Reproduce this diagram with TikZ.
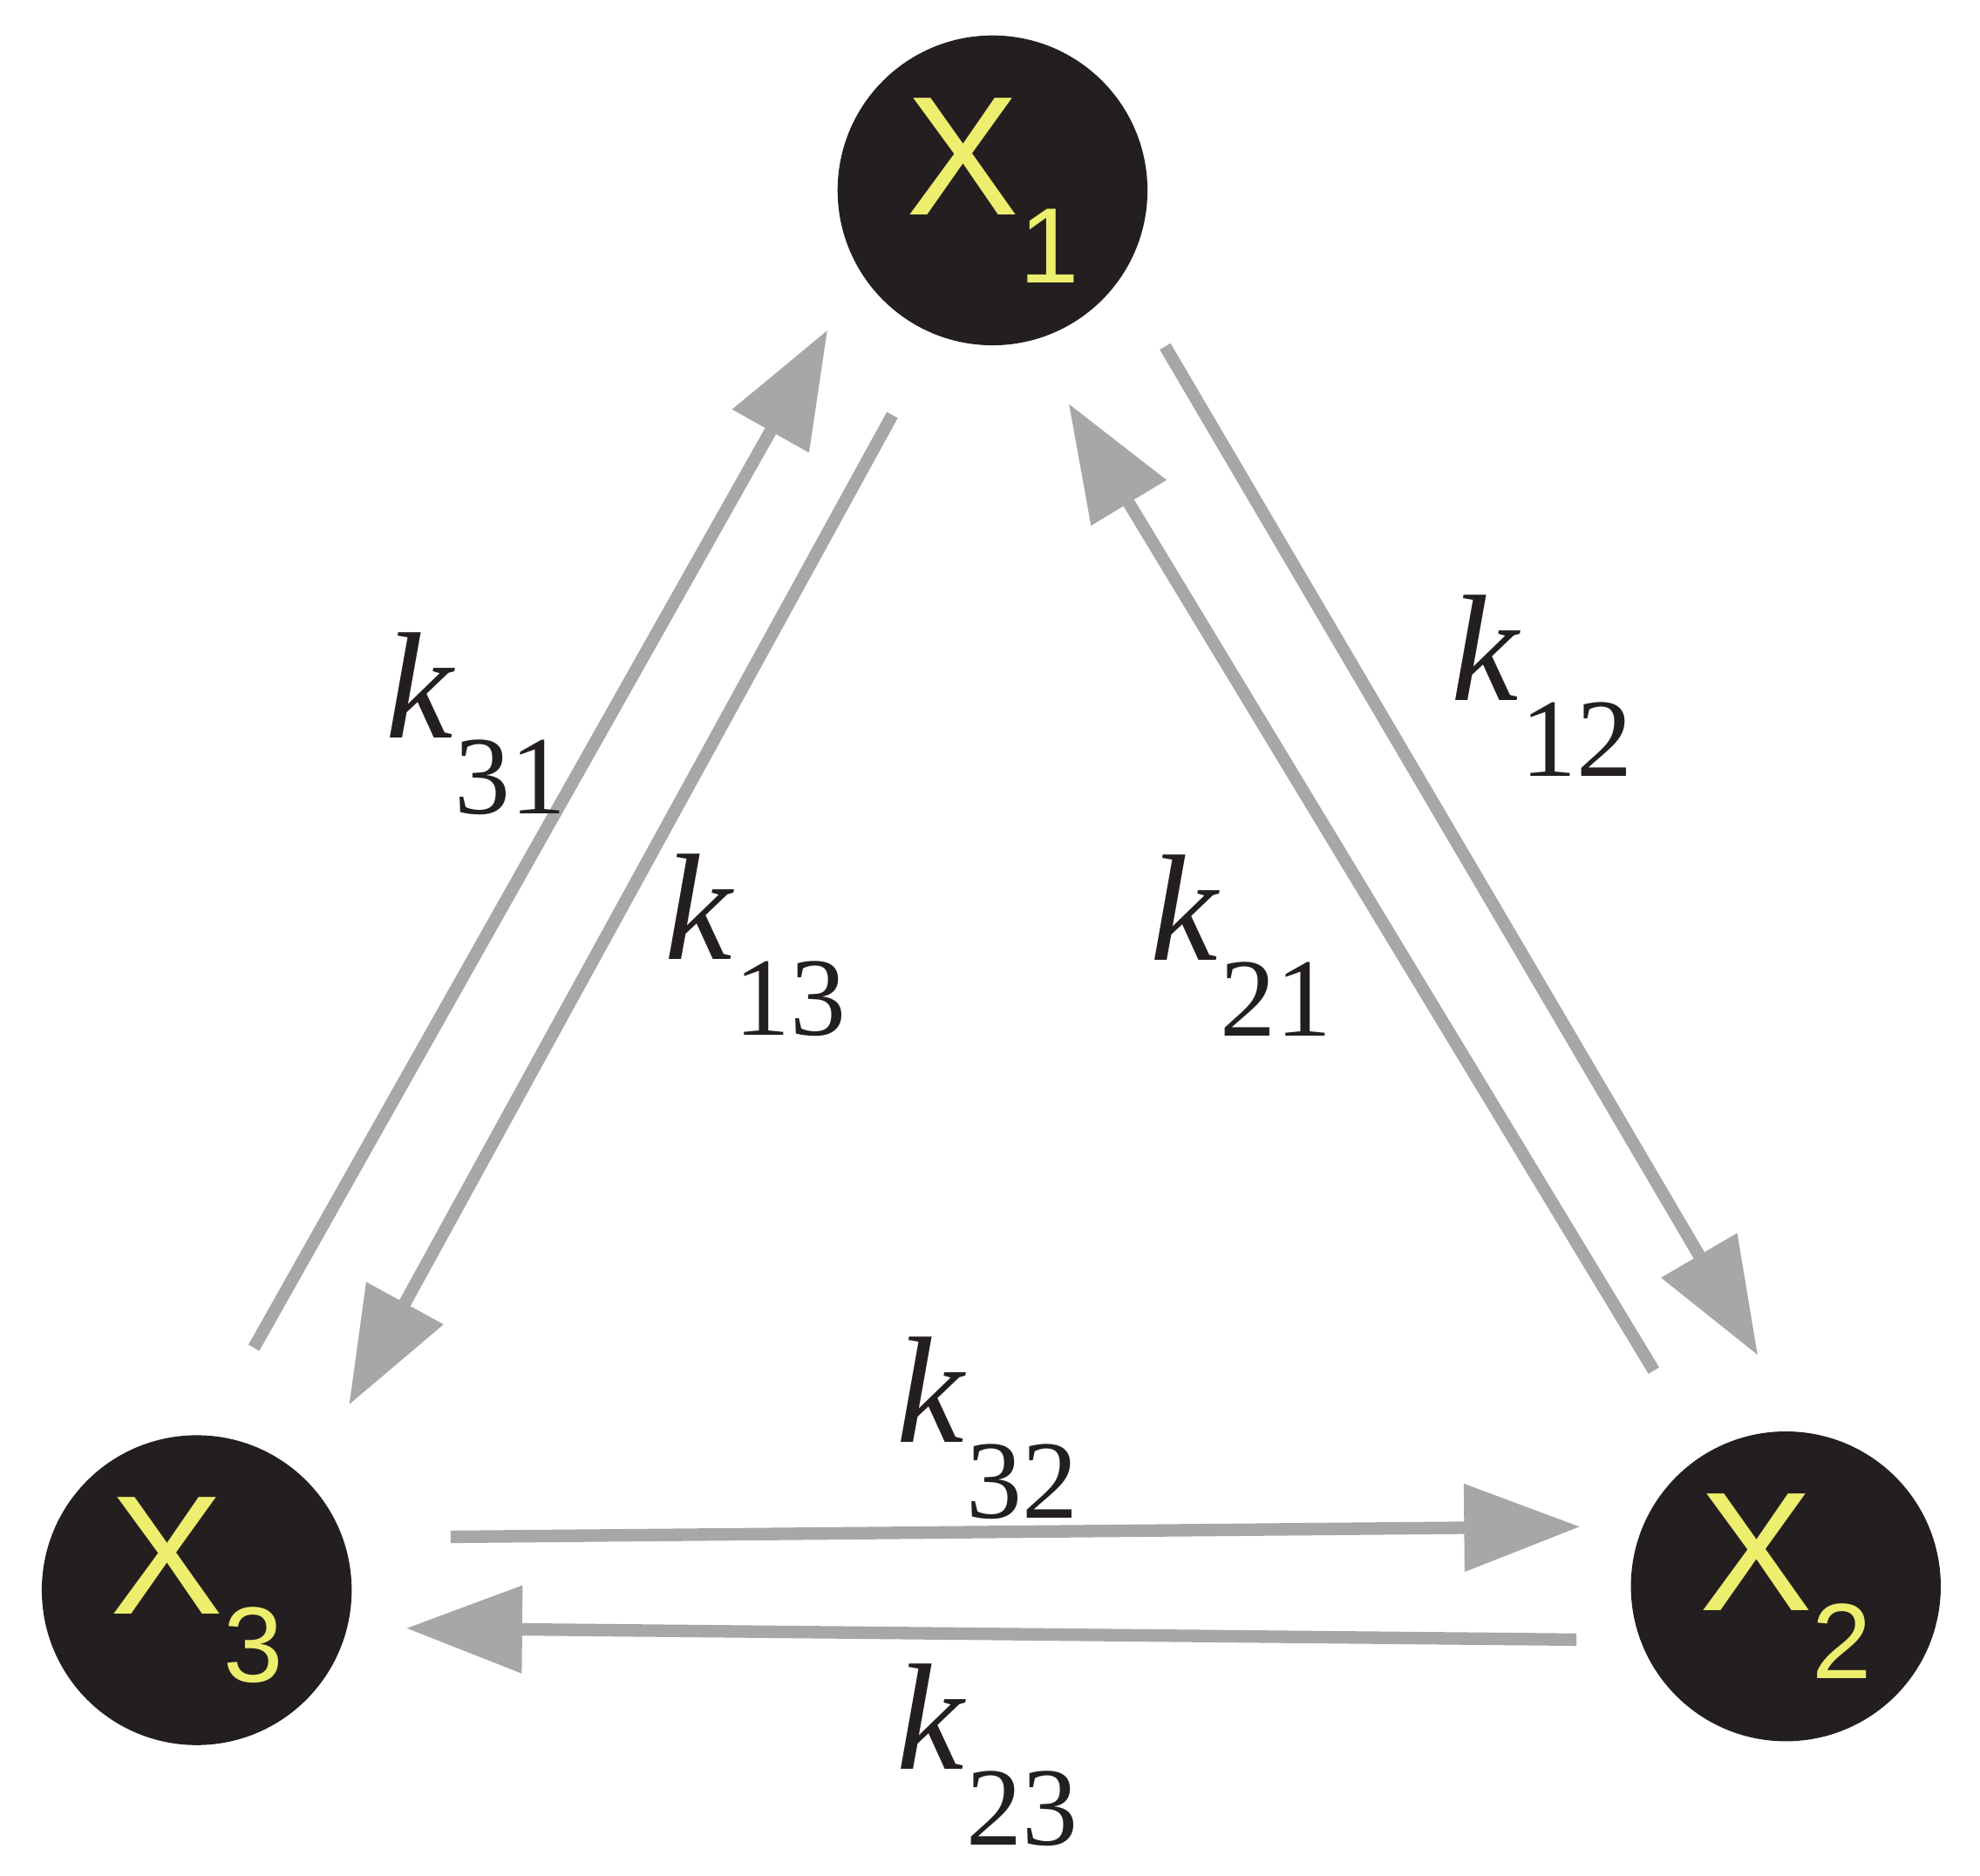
\documentclass[tikz,border=0pt]{standalone}
\usepackage{fontspec}
\setmainfont{Liberation Serif}
\setsansfont{Liberation Sans}
\usetikzlibrary{arrows.meta}
\definecolor{nodefill}{HTML}{231F20}
\definecolor{xyellow}{HTML}{EEEE6E}
\definecolor{arrgray}{HTML}{A7A7A7}
\begin{document}
\begin{tikzpicture}[x=0.01cm,y=-0.01cm,
  state/.style={circle,fill=nodefill,minimum size=2.44cm,inner sep=0pt,text=xyellow,font=\sffamily\fontsize{38}{40}\selectfont},
  flow/.style={draw=arrgray,line width=2.8pt,-{Triangle[length=26pt,width=19pt]}},
  klab/.style={font=\fontsize{34}{40}\selectfont,text=nodefill}]
\useasboundingbox (0,0) rectangle (1560,1478);
\node[state] (x1) at (782,150) {X\raisebox{-0.4em}{\fontsize{24}{24}\selectfont 1}};
\node[state] (x3) at (155,1253) {X\raisebox{-0.4em}{\fontsize{24}{24}\selectfont 3}};
\node[state] (x2) at (1407,1250) {X\raisebox{-0.4em}{\fontsize{24}{24}\selectfont 2}};
\coordinate (a31s) at (200,1062); \coordinate (a31e) at (652,260);
\coordinate (a13s) at (703,327); \coordinate (a13e) at (275,1107);
\coordinate (a21s) at (1303,1080); \coordinate (a21e) at (842,318);
\coordinate (a12s) at (918,273); \coordinate (a12e) at (1385,1068);
\coordinate (a32s) at (355,1211); \coordinate (a32e) at (1245,1203);
\coordinate (a23s) at (1242,1292); \coordinate (a23e) at (320,1283);
\draw[flow] (a31s) -- (a31e);
\draw[flow] (a13s) -- (a13e);
\draw[flow] (a21s) -- (a21e);
\draw[flow] (a12s) -- (a12e);
\draw[flow] (a32s) -- (a32e);
\draw[flow] (a23s) -- (a23e);
\newcommand{\klab}[1]{\textit{k}\raisebox{-0.5em}{\fontsize{25}{25}\selectfont #1}}
\node[klab] (k31) at (375,570) {\klab{31}};
\node[klab] (k13) at (595,745) {\klab{13}};
\node[klab] (k21) at (978,745) {\klab{21}};
\node[klab] (k12) at (1215,540) {\klab{12}};
\node[klab] (k32) at (778,1125) {\klab{32}};
\node[klab] (k23) at (778,1383) {\klab{23}};
\end{tikzpicture}
\end{document}
